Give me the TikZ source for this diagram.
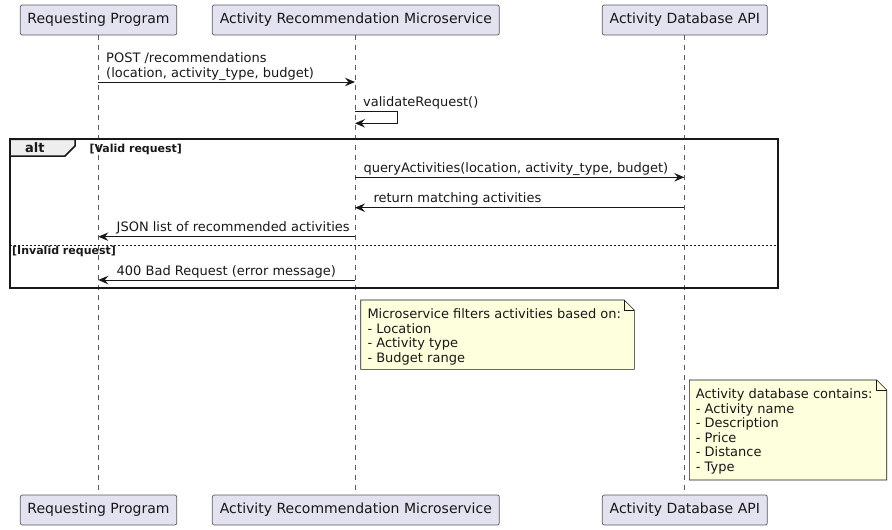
\documentclass[tikz,border=0pt]{standalone}
\usepackage{fontspec}
\setmainfont{DejaVu Sans}
\usetikzlibrary{arrows.meta}
\definecolor{partfill}{HTML}{E2E2F0}
\definecolor{partline}{HTML}{5A5A5A}
\definecolor{notefill}{HTML}{FEFFDD}
\definecolor{tabfill}{HTML}{EEEEEE}
\definecolor{ink}{HTML}{181818}
\tikzset{
  part/.style={draw=partline, fill=partfill, line width=0.7pt, rounded corners=2pt,
    minimum height=30pt, inner sep=0pt, font=\fontsize{14}{16}\selectfont, text=ink},
  lifeline/.style={draw=partline, line width=0.7pt, dash pattern=on 5pt off 5pt},
  msg/.style={draw=ink, line width=1pt, -{Stealth[length=10pt,width=8.5pt,inset=3.5pt]}},
  msglabel/.style={anchor=base west, inner sep=0pt, font=\fontsize{13}{15}\selectfont, text=ink},
  guard/.style={anchor=base west, inner sep=0pt, font=\fontsize{11}{13}\selectfont\bfseries, text=ink},
  notetext/.style={anchor=north west, inner sep=0pt, align=left, font=\fontsize{13}{14.6}\selectfont, text=ink},
  noteshape/.style={draw=ink, fill=notefill, line width=0.6pt},
}
\begin{document}
\begin{tikzpicture}[x=1pt,y=-1pt]
\useasboundingbox (0,0) rectangle (892,530);

% participants
\node[part, minimum width=156.4pt] (p1t) at (98.5,20) {Requesting Program};
\node[part, minimum width=287pt] (p2t) at (355.8,20) {Activity Recommendation Microservice};
\node[part, minimum width=165pt] (p3t) at (684.8,20) {Activity Database API};
\node[part, minimum width=156.4pt] (p1b) at (98.5,510) {Requesting Program};
\node[part, minimum width=287pt] (p2b) at (355.8,510) {Activity Recommendation Microservice};
\node[part, minimum width=165pt] (p3b) at (684.8,510) {Activity Database API};

% lifelines
\draw[lifeline] (p1t.south) -- (p1b.north);
\draw[lifeline] (p2t.south) -- (p2b.north);
\draw[lifeline] (p3t.south) -- (p3b.north);

% alt frame
\draw[ink, line width=2pt] (10,139.3) rectangle (777.7,287.7);
\draw[ink, line width=1.5pt, fill=tabfill] (10,139.3) -- (75,139.3) -- (75,146) -- (65,156) -- (10,156) -- cycle;
\draw[ink, line width=2pt] (10,139.3) -- (777.7,139.3);
\node[anchor=base west, inner sep=0pt, font=\fontsize{13}{15}\selectfont\bfseries, text=ink] (altlbl) at (25,152.5) {alt};
\node[guard] (g1) at (89.3,152) {[Valid request]};
\draw[ink, line width=1pt, dash pattern=on 2pt off 2pt] (10,245) -- (777.7,245);
\node[guard] (g2) at (12,254) {[Invalid request]};

% message coordinates
\coordinate (m1s) at (98.3,82);   \coordinate (m1e) at (355,82);
\coordinate (s1a) at (355,111.7); \coordinate (s1b) at (397.7,111.7);
\coordinate (s1c) at (397.7,123.3); \coordinate (s1d) at (355,123.3);
\coordinate (q1s) at (355,177.3); \coordinate (q1e) at (684.3,177.3);
\coordinate (r1s) at (684.3,207.7); \coordinate (r1e) at (355,207.7);
\coordinate (j1s) at (355,236.7); \coordinate (j1e) at (98.3,236.7);
\coordinate (b1s) at (355,280);   \coordinate (b1e) at (98.3,280);

% messages
\draw[msg] (m1s) -- (m1e);
\node[msglabel] (m1a) at (106,62.5) {POST /recommendations};
\node[msglabel] (m1b) at (106,77) {(location, activity\_type, budget)};

\draw[msg] (s1a) -- (s1b) -- (s1c) -- (s1d);
\node[msglabel] (s1l) at (363,106.7) {validateRequest()};

\draw[msg] (q1s) -- (q1e);
\node[msglabel] (q1l) at (363.3,172.5) {queryActivities(location, activity\_type, budget)};

\draw[msg] (r1s) -- (r1e);
\node[msglabel] (r1l) at (373.3,202.5) {return matching activities};

\draw[msg] (j1s) -- (j1e);
\node[msglabel] (j1l) at (116.5,231.7) {JSON list of recommended activities};

\draw[msg] (b1s) -- (b1e);
\node[msglabel] (b1l) at (116.5,275) {400 Bad Request (error message)};

% note 1
\draw[noteshape] (360.7,300) -- (624.3,300) -- (634.3,310) -- (634.3,369.3) -- (360.7,369.3) -- cycle;
\draw[ink, line width=0.6pt] (624.3,300) -- (624.3,310) -- (634.3,310);
\node[notetext] (n1) at (367.3,308.4) {Microservice filters activities based on:\\- Location\\- Activity type\\- Budget range};

% note 2
\draw[noteshape] (689.3,380) -- (876.7,380) -- (886.7,390) -- (886.7,480) -- (689.3,480) -- cycle;
\draw[ink, line width=0.6pt] (876.7,380) -- (876.7,390) -- (886.7,390);
\node[notetext] (n2) at (695.7,388.4) {Activity database contains:\\- Activity name\\- Description\\- Price\\- Distance\\- Type};
\end{tikzpicture}
\end{document}
